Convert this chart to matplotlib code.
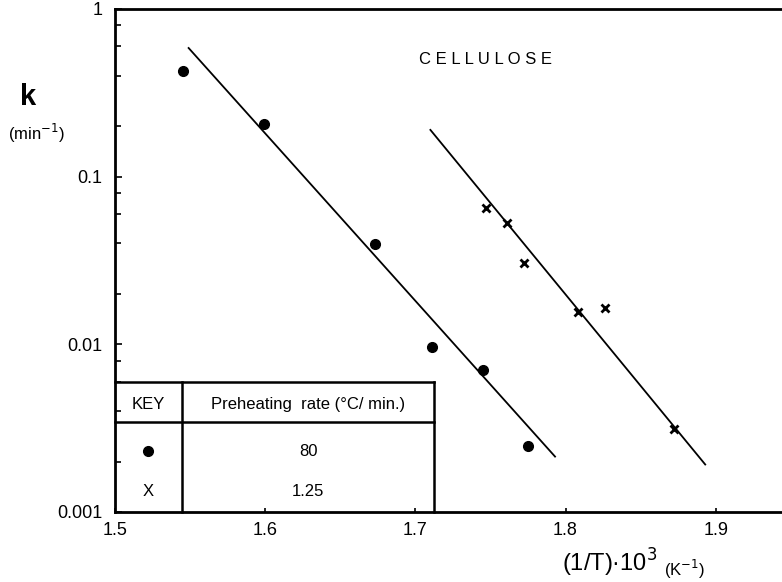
import numpy as np
import matplotlib
matplotlib.use("Agg")
import matplotlib.pyplot as plt
from matplotlib.ticker import LogLocator, NullFormatter

plt.rcParams['font.family'] = ['Liberation Sans', 'DejaVu Sans']

# preheating rate 80 C/min (circles)
x_80 = [1.545, 1.599, 1.673, 1.711, 1.745, 1.775]
k_80 = [0.426, 0.206, 0.0395, 0.0096, 0.0070, 0.00249]
# preheating rate 1.25 C/min (crosses)
x_125 = [1.747, 1.761, 1.772, 1.808, 1.826, 1.872]
k_125 = [0.0649, 0.0528, 0.0305, 0.0155, 0.0164, 0.00311]

# fitted lines (end points)
fit_x_80 = [1.549, 1.793]
fit_k_80 = [0.585, 0.00214]
fit_x_125 = [1.710, 1.893]
fit_k_125 = [0.190, 0.00192]

yticks = [0.001, 0.01, 0.1, 1]
ylabels = ['0.001', '0.01', '0.1', '1']
xticks = [1.5, 1.6, 1.7, 1.8, 1.9]
xlabels = ['1.5', '1.6', '1.7', '1.8', '1.9']

fig = plt.figure(figsize=(7.82, 5.82), dpi=100)
ax = fig.add_axes([0.1471, 0.1203, 0.8517, 0.8643])

ax.plot(fit_x_80, fit_k_80, color='black', lw=1.3)
ax.plot(fit_x_125, fit_k_125, color='black', lw=1.3)
ax.plot(x_80, k_80, 'o', color='black', ms=7, ls='none')
ax.plot(x_125, k_125, 'x', color='black', ms=6, mew=2, ls='none')

ax.set_yscale('log')
ax.set_xlim(1.5, 1.9435)
ax.set_ylim(0.001, 1)
ax.set_yticks(yticks, ylabels)
ax.set_xticks(xticks, xlabels)
ax.yaxis.set_minor_locator(LogLocator(base=10, subs=(2, 4, 6, 8)))
ax.yaxis.set_minor_formatter(NullFormatter())
ax.tick_params(axis='y', which='major', direction='in', length=5, width=1.2,
               labelsize=13, pad=9)
ax.tick_params(axis='y', which='minor', direction='in', length=4, width=1.2)
ax.tick_params(axis='x', which='major', direction='in', length=3, width=1.2,
               labelsize=13, pad=7)
for s in ax.spines.values():
    s.set_linewidth(2)
ax.spines['right'].set_visible(False)

ax.text(0.556, 0.899, 'C E L L U L O S E', transform=ax.transAxes,
        ha='center', va='center', fontsize=12)

# key table
tx = 0.479
cx = 0.1006
ty = 0.2584
hy = 0.179
kw = dict(transform=ax.transAxes, color='black', lw=1.8, clip_on=False)
ax.plot([0, tx], [ty, ty], **kw)
ax.plot([0, tx], [hy, hy], **kw)
ax.plot([tx, tx], [0, ty], **kw)
ax.plot([cx, cx], [0, ty], **kw)
ax.text(0.0495, 0.2127, 'KEY', transform=ax.transAxes, ha='center',
        va='center', fontsize=12)
ax.text(0.29, 0.2127, 'Preheating  rate (°C/ min.)', transform=ax.transAxes,
        ha='center', va='center', fontsize=12)
ax.plot([0.0495], [0.121], 'o', color='black', ms=7, transform=ax.transAxes,
        clip_on=False)
ax.text(0.29, 0.121, '80', transform=ax.transAxes, ha='center', va='center',
        fontsize=12)
ax.text(0.0495, 0.0398, 'X', transform=ax.transAxes, ha='center',
        va='center', fontsize=12)
ax.text(0.29, 0.0398, '1.25', transform=ax.transAxes, ha='center',
        va='center', fontsize=12)

# axis labels
fig.text(28 / 782, 1 - 97 / 582, 'k', ha='center', va='center', fontsize=21,
         fontweight='bold')
fig.text(36 / 782, 1 - 133 / 582, '(min$^{-1}$)', ha='center', va='center',
         fontsize=12)
fig.text(562 / 782, 1 - 563 / 582, '(1/T)·10$^3$', ha='left',
         va='center', fontsize=17)
fig.text(664 / 782, 1 - 569 / 582, '(K$^{-1}$)', ha='left', va='center',
         fontsize=12)

fig.savefig('out.png', dpi=100)
